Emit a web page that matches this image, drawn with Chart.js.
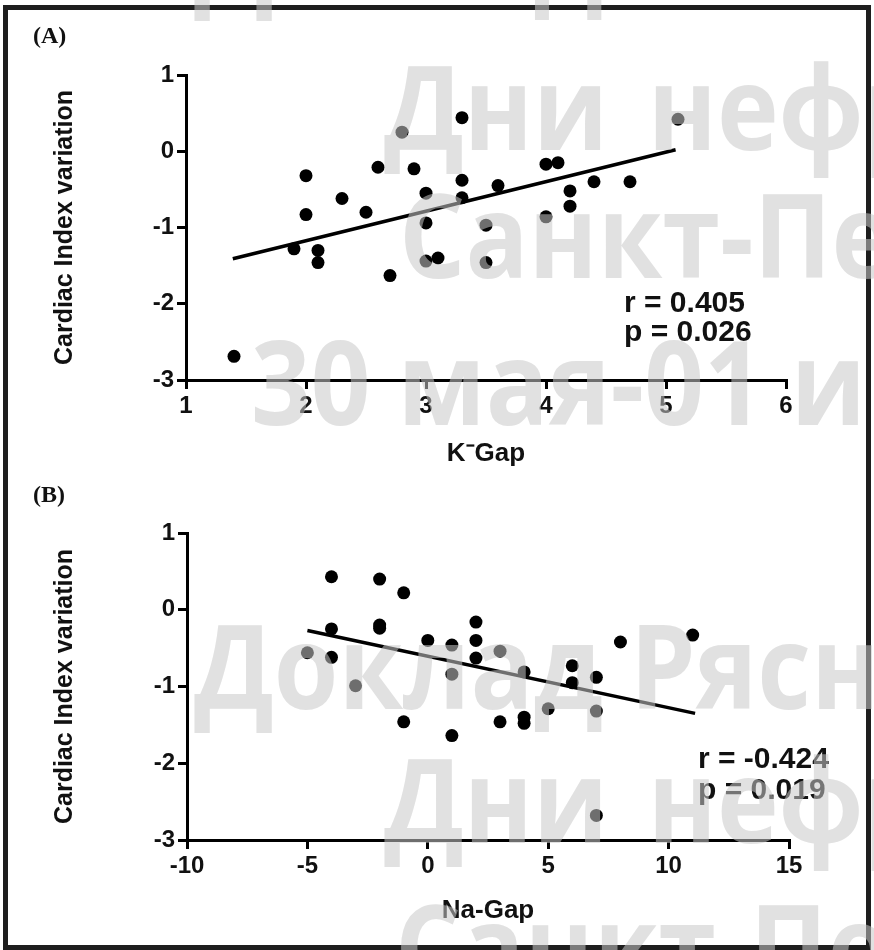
<!DOCTYPE html>
<html>
<head>
<meta charset="utf-8">
<script src="https://cdn.jsdelivr.net/npm/chart.js@4.4.0/dist/chart.umd.min.js"></script>
<style>
  html, body { margin: 0; padding: 0; background: #fff; }
  #page { position: relative; width: 874px; height: 950px; overflow: hidden; background: #fff; }
  #frame { position: absolute; left: 3px; top: 5px; width: 868px; height: 945px; box-sizing: border-box; border: 5px solid #1e1e1e; }
  canvas { position: absolute; left: 0; }
  #chartA { top: 0; }
  #chartB { top: 470px; }
  .panel { position: absolute; left: 33px; font: bold 24px "Liberation Serif", "DejaVu Serif", serif; color: #111; }
  .wm { position: absolute; font: bold 116px "Open Sans", "DejaVu Sans", sans-serif; line-height: 1; color: rgba(200,200,200,0.55); white-space: nowrap; pointer-events: none; transform-origin: 0 0; transform: scaleX(0.9); }
  .wide { word-spacing: 14px; }
</style>
</head>
<body>
<div id="page">
  <div id="frame"></div>
  <canvas id="chartA" width="874" height="470"></canvas>
  <canvas id="chartB" width="874" height="480"></canvas>
  <div class="panel" style="top:22px">(A)</div>
  <div class="panel" style="top:481px">(B)</div>

  <!-- watermark sits on top of everything, like in the scan -->
  <div class="wm" style="left:194px; top:-106px">Доклад Рясня</div>
  <div class="wm wide" style="left:384px; top:47px">Дни нефрологии</div>
  <div class="wm" style="left:399px; top:175px">Санкт-Петербург</div>
  <div class="wm" style="left:251px; top:322px">30 мая-01 июня</div>
  <div class="wm" style="left:194px; top:606px">Доклад Рясня</div>
  <div class="wm wide" style="left:384px; top:740px">Дни нефрологии</div>
  <div class="wm" style="left:395px; top:886px">Санкт-Петербург</div>
</div>

<script>
// (A) K-Gap vs cardiac index variation
const kGap = [1.4, 1.9, 2.1, 2.1, 2.0, 2.0, 2.3, 2.5, 2.6, 2.8, 2.7, 2.9, 3.0, 3.0, 3.0,
              3.1, 3.3, 3.3, 3.3, 3.5, 3.5, 3.6, 5.1, 4.0, 4.1, 4.2, 4.4, 4.7, 4.2, 4.0];
const ciVarA = [-2.69, -1.28, -1.30, -1.46, -0.32, -0.83, -0.62, -0.80, -0.21, 0.25, -1.63, -0.23, -0.55, -0.94, -1.44,
                -1.40, 0.44, -0.38, -0.61, -0.97, -1.46, -0.45, 0.42, -0.17, -0.15, -0.52, -0.40, -0.40, -0.72, -0.86];
const fitAx = [1.39, 5.08];
const fitAy = [-1.41, 0.02];

// (B) Na-Gap vs cardiac index variation
const naGap = [-4, -2, -1, -4, -2, -2, -5, -4, -3, -1, 0, 1, 1, 1, 2,
               2, 2, 3, 3, 4, 4, 4, 5, 6, 6, 7, 7, 7, 8, 11];
const ciVarB = [0.43, 0.40, 0.22, -0.25, -0.20, -0.24, -0.56, -0.62, -0.99, -1.46, -0.40, -0.46, -0.84, -1.64, -0.16,
                -0.40, -0.63, -0.54, -1.46, -0.81, -1.40, -1.48, -1.29, -0.73, -0.95, -0.88, -1.32, -2.68, -0.42, -0.33];
const fitBx = [-5.0, 11.1];
const fitBy = [-0.27, -1.35];

const xTicksA = [1, 2, 3, 4, 5, 6];
const xTicksB = [-10, -5, 0, 5, 10, 15];
const yTicks = [-3, -2, -1, 0, 1];

const statsA = ['r = 0.405', 'p = 0.026'];
const statsB = ['r = -0.424', 'p = 0.019'];

Chart.defaults.font.family = '"Liberation Sans", Arial, sans-serif';
Chart.defaults.font.weight = 'bold';
Chart.defaults.color = '#111';

const statsPlugin = {
  id: 'stats',
  afterDatasetsDraw(chart, args, opts) {
    const ctx = chart.ctx;
    ctx.save();
    ctx.font = 'bold 30px "Liberation Sans", Arial, sans-serif';
    ctx.fillStyle = '#111';
    opts.lines.forEach((t, i) => ctx.fillText(t, opts.x, opts.y + i * opts.gap));
    ctx.restore();
  }
};

function pairs(xs, ys) {
  return xs.map((x, i) => ({ x: x, y: ys[i] }));
}

function makeChart(id, xs, ys, fx, fy, xTicks, xTitle, stats, pad, yWidth, xHeight) {
  const axisCommon = {
    grid: { drawOnChartArea: false, color: '#000', lineWidth: 3, tickLength: 9 },
    border: { display: true, color: '#000', width: 3 }
  };
  new Chart(document.getElementById(id), {
    type: 'scatter',
    data: {
      datasets: [{
        data: pairs(xs, ys),
        backgroundColor: '#000',
        borderWidth: 0,
        pointRadius: 6.5
      }, {
        data: pairs(fx, fy),
        showLine: true,
        borderColor: '#000',
        borderWidth: 3.5,
        pointRadius: 0
      }]
    },
    options: {
      responsive: false,
      animation: false,
      layout: { padding: pad },
      plugins: {
        legend: { display: false },
        tooltip: { enabled: false },
        stats: stats
      },
      scales: {
        x: {
          ...axisCommon,
          min: xTicks[0],
          max: xTicks[xTicks.length - 1],
          afterBuildTicks: s => { s.ticks = xTicks.map(v => ({ value: v })); },
          afterFit: s => { s.height = xHeight; },
          ticks: { font: { size: 24 }, padding: 3, autoSkip: false, maxRotation: 0 },
          title: { display: true, text: xTitle, font: { size: 26 }, padding: { top: 0, bottom: 1 } }
        },
        y: {
          ...axisCommon,
          min: yTicks[0],
          max: yTicks[yTicks.length - 1],
          afterBuildTicks: s => { s.ticks = yTicks.map(v => ({ value: v })); },
          afterFit: s => { s.width = yWidth; },
          ticks: { font: { size: 24 }, padding: 3 },
          title: { display: true, text: 'Cardiac Index variation', font: { size: 25 }, padding: { top: 0, bottom: 0 } }
        }
      }
    },
    plugins: [statsPlugin]
  });
}

makeChart('chartA', kGap, ciVarA, fitAx, fitAy, xTicksA, 'K\u207BGap',
  { lines: statsA, x: 624, y: 312, gap: 29 },
  { left: 50, right: 88, top: 75, bottom: 0 }, 136, 90);

makeChart('chartB', naGap, ciVarB, fitBx, fitBy, xTicksB, 'Na-Gap',
  { lines: statsB, x: 698, y: 298, gap: 31 },
  { left: 50, right: 85, top: 63, bottom: 23 }, 137, 87);
</script>
</body>
</html>
